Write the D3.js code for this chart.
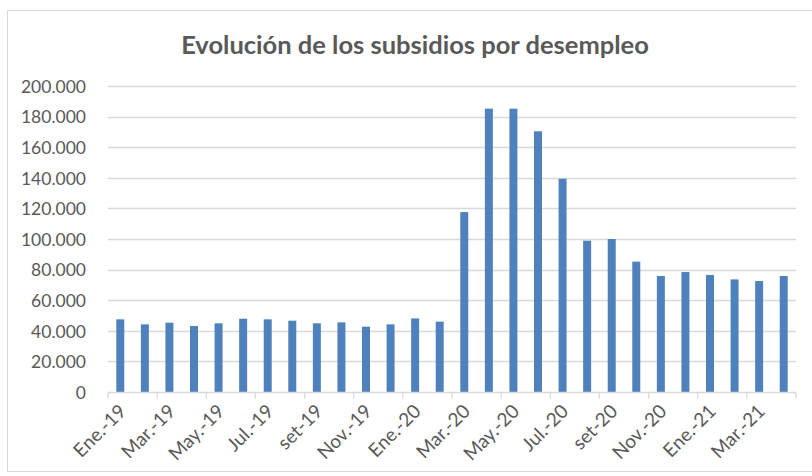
<!DOCTYPE html>
<html>
<head>
<meta charset="utf-8">
<script src="https://cdn.jsdelivr.net/npm/d3@7"></script>
<style>
  body { margin: 0; background: #fff; }
  text { font-family: Lato, "Open Sans", sans-serif; fill: #595959; }
</style>
</head>
<body>
<div id="chart"></div>
<script>
// datos
const months = ["Ene.-19", "Feb.-19", "Mar.-19", "Abr.-19", "May.-19", "Jun.-19", "Jul.-19", "Ago.-19",
  "set-19", "Oct.-19", "Nov.-19", "Dic.-19", "Ene.-20", "Feb.-20", "Mar.-20", "Abr.-20",
  "May.-20", "Jun.-20", "Jul.-20", "Ago.-20", "set-20", "Oct.-20", "Nov.-20", "Dic.-20",
  "Ene.-21", "Feb.-21", "Mar.-21", "Abr.-21"];
const subsidios = [47500, 44200, 45300, 43100, 44900, 47900, 47500, 46600,
  44900, 45500, 42700, 44200, 48100, 46000, 117600, 185200,
  185200, 170400, 139400, 98900, 100000, 85200, 75800, 78400,
  76500, 73600, 72500, 75800];
const yTicks = [0, 20000, 40000, 60000, 80000, 100000, 120000, 140000, 160000, 180000, 200000];

const width = 812;
const height = 476;
const margin = {top: 86, right: 16, bottom: 84, left: 108};

var svg = d3.select("#chart").append("svg")
    .attr("width", width).attr("height", height);

// marco
svg.append("rect")
    .attr("x", 7.5).attr("y", 10.5)
    .attr("width", 820).attr("height", 461)
    .attr("fill", "#fff")
    .attr("stroke", "#d9d9d9");

svg.append("text")
    .attr("x", 415).attr("y", 54)
    .attr("text-anchor", "middle")
    .attr("font-size", 25.5)
    .attr("font-weight", "bold")
    .text("Evolución de los subsidios por desempleo");

var x = d3.scaleBand()
    .domain(months)
    .range([margin.left, width - margin.right])
    .paddingInner(0.675).paddingOuter(0.3375);

var y = d3.scaleLinear()
    .domain([0, 200000])
    .range([height - margin.bottom, margin.top]);

var fmt = d3.formatLocale({decimal: ",", thousands: ".", grouping: [3], currency: ["", ""]}).format(",.0f");

// rejilla
svg.append("g")
    .selectAll("line")
    .data(yTicks.filter(function (d) { return d > 0; }))
    .enter()
    .append("line")
    .attr("x1", margin.left).attr("x2", width - margin.right)
    .attr("y1", function (d) { return Math.round(y(d)) + 0.5; })
    .attr("y2", function (d) { return Math.round(y(d)) + 0.5; })
    .attr("stroke", "#d9d9d9")
    .attr("stroke-width", 1.3);

// eje y
var yAxis = svg.append("g")
    .attr("transform", "translate(" + (margin.left - 19) + ",0)")
    .call(d3.axisLeft(y).tickValues(yTicks).tickFormat(fmt).tickSize(0));
yAxis.select(".domain").remove();
yAxis.selectAll("text")
    .attr("font-size", 17.5)
    .attr("fill", "#595959")
    .attr("dy", "0.36em");

// barras
svg.append("g")
    .selectAll(".bar")
    .data(subsidios)
    .enter()
    .append("rect")
    .attr("class", "bar")
    .attr("x", function (d, i) { return x(months[i]); })
    .attr("width", x.bandwidth())
    .attr("y", function (d) { return y(d); })
    .attr("height", function (d) { return y(0) - y(d); })
    .attr("fill", "#4f81bd");

// eje x
var step = x.step();
var base = Math.round(y(0)) + 0.5;
var xg = svg.append("g");
xg.append("line")
    .attr("x1", margin.left).attr("x2", width - margin.right)
    .attr("y1", base).attr("y2", base)
    .attr("stroke", "#d9d9d9").attr("stroke-width", 1.3);
xg.selectAll(".tick")
    .data(d3.range(0, months.length + 1, 2))
    .enter()
    .append("line")
    .attr("x1", function (i) { return margin.left + i * step; })
    .attr("x2", function (i) { return margin.left + i * step; })
    .attr("y1", base).attr("y2", base + 6)
    .attr("stroke", "#d9d9d9").attr("stroke-width", 1.3);

xg.selectAll(".lbl")
    .data(months.filter(function (d, i) { return i % 2 === 0; }))
    .enter()
    .append("text")
    .attr("class", "lbl")
    .attr("text-anchor", "end")
    .attr("font-size", 19)
    .attr("transform", function (d) {
        return "translate(" + (x(d) + x.bandwidth() / 2 + 7) + "," + (base + 20) + ") rotate(-45)";
    })
    .text(function (d) { return d; });
</script>
</body>
</html>
